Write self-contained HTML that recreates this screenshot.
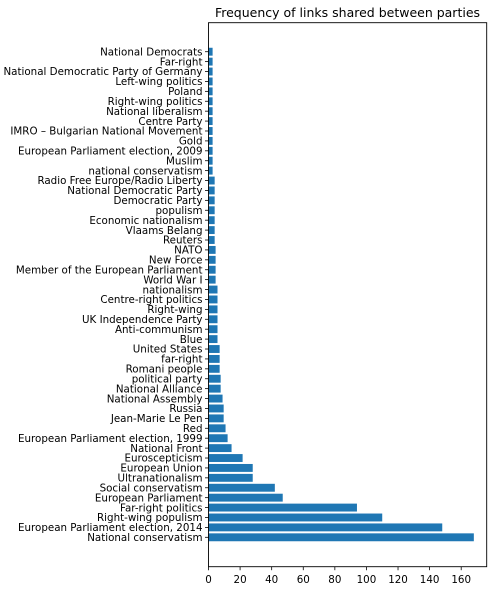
<!DOCTYPE html>
<html><head><meta charset="utf-8"><style>
html,body{margin:0;padding:0;background:#fff;}
svg{display:block;font-family:"DejaVu Sans","Liberation Sans",sans-serif;}
</style></head><body>
<svg id="chart" width="497" height="590">
<text x="347.5" y="17" font-size="12.5" text-anchor="middle" fill="#000">Frequency of links shared between parties</text>
<g id="bars"></g><g id="yticks"></g><g id="xticks"></g>
<rect x="208.5" y="22.7" width="278.2" height="544" fill="none" stroke="#000" stroke-width="0.9"/>
</svg>
<script>
const categories = ["National conservatism","European Parliament election, 2014","Right-wing populism","Far-right politics","European Parliament","Social conservatism","Ultranationalism","European Union","Euroscepticism","National Front","European Parliament election, 1999","Red","Jean-Marie Le Pen","Russia","National Assembly","National Alliance","political party","Romani people","far-right","United States","Blue","Anti-communism","UK Independence Party","Right-wing","Centre-right politics","nationalism","World War I","Member of the European Parliament","New Force","NATO","Reuters","Vlaams Belang","Economic nationalism","populism","Democratic Party","National Democratic Party","Radio Free Europe/Radio Liberty","national conservatism","Muslim","European Parliament election, 2009","Gold","IMRO – Bulgarian National Movement","Centre Party","National liberalism","Right-wing politics","Poland","Left-wing politics","National Democratic Party of Germany","Far-right","National Democrats"];
const values = [168,148,110,94,47,42,28,28,21.6,14.6,12.1,10.8,9.6,9.6,8.9,7.7,7.7,7.05,7.05,7.05,5.7,5.7,5.7,5.7,5.7,5.7,4.5,4.5,4.5,4.5,3.9,3.9,3.9,3.9,3.9,3.9,3.9,2.6,2.6,2.6,2.6,2.6,2.6,2.6,2.6,2.6,2.6,2.6,2.6,2.6];
const xTicks = [0,20,40,60,80,100,120,140,160];
const NS="http://www.w3.org/2000/svg";
const x0=208.5, xScale=252.7/160;
const xp=v=>x0+v*xScale;
const yp=i=>537.3-i*9.91;
const bh=7.9;
const bars=document.getElementById('bars'), yt=document.getElementById('yticks'), xt=document.getElementById('xticks');
categories.forEach((c,i)=>{
  const r=document.createElementNS(NS,'rect');
  r.setAttribute('x',xp(0));r.setAttribute('y',yp(i)-bh/2);
  r.setAttribute('width',xp(values[i])-xp(0));r.setAttribute('height',bh);
  r.setAttribute('fill','#1f77b4');
  
  
  bars.appendChild(r);
  const l=document.createElementNS(NS,'line');
  l.setAttribute('x1',x0-3.5);l.setAttribute('x2',x0);l.setAttribute('y1',yp(i));l.setAttribute('y2',yp(i));
  l.setAttribute('stroke','#000');l.setAttribute('stroke-width','0.8');
  yt.appendChild(l);
  const t=document.createElementNS(NS,'text');
  t.setAttribute('x',x0-6);t.setAttribute('y',yp(i)+3.7);
  t.setAttribute('text-anchor','end');t.setAttribute('font-size','10.3');
  t.textContent=c;
  
  
  yt.appendChild(t);
});
xTicks.forEach(v=>{
  const l=document.createElementNS(NS,'line');
  l.setAttribute('x1',xp(v));l.setAttribute('x2',xp(v));l.setAttribute('y1',566.7);l.setAttribute('y2',570.2);
  l.setAttribute('stroke','#000');l.setAttribute('stroke-width','0.8');
  xt.appendChild(l);
  const t=document.createElementNS(NS,'text');
  t.setAttribute('x',xp(v));t.setAttribute('y',583);
  t.setAttribute('text-anchor','middle');t.setAttribute('font-size','10.3');
  t.textContent=v;
  
  
  xt.appendChild(t);
});
</script>
</body></html>
